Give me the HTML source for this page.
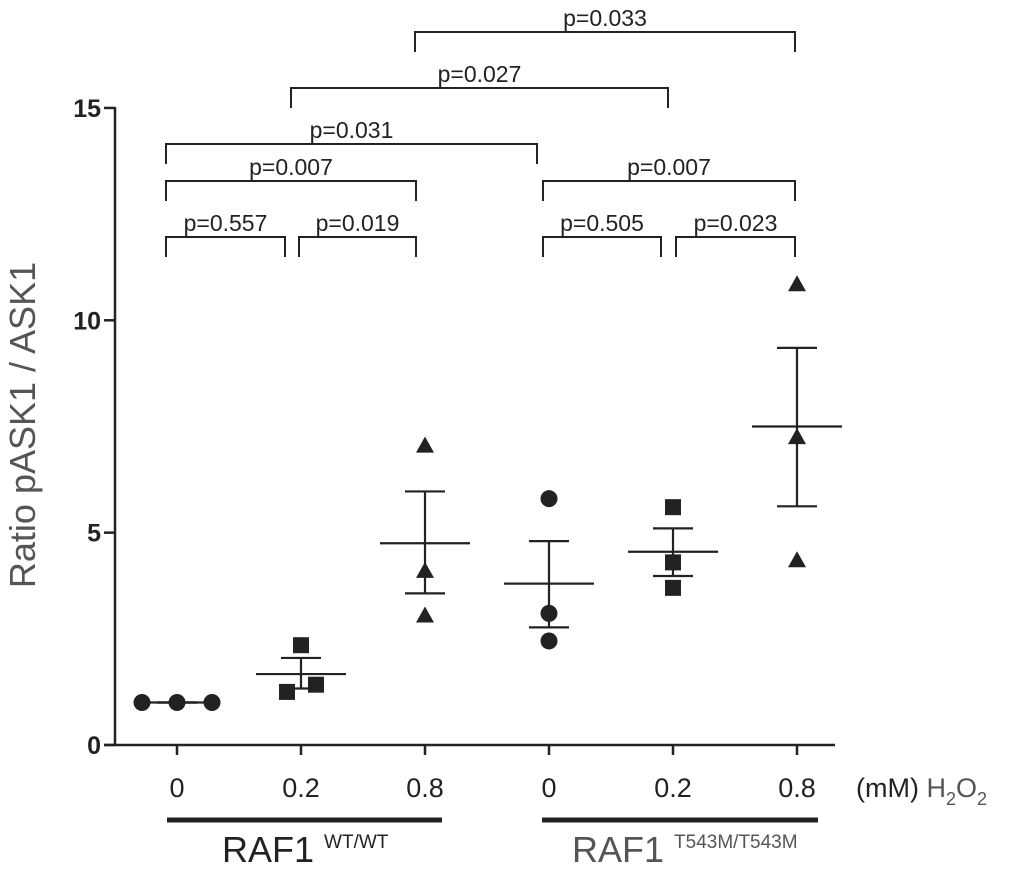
<!DOCTYPE html>
<html><head><meta charset="utf-8"><style>
body{margin:0;background:#fff}
svg{display:block;font-family:"Liberation Sans",Arial,sans-serif}
</style></head><body>
<svg id="chart" width="1017" height="896" viewBox="0 0 1017 896" xmlns="http://www.w3.org/2000/svg"></svg>
<script>
const categories = ["0","0.2","0.8","0","0.2","0.8"];
const shapes = ["circle","square","triangle","circle","square","triangle"];
const values = [[1,1,1],[2.35,1.25,1.42],[7.05,4.1,3.05],[5.8,3.1,2.45],[5.6,4.3,3.7],[10.85,7.25,4.35]];
const means = [1,1.67,4.75,3.8,4.55,7.5];
const semHi = [1,2.05,5.97,4.8,5.1,9.35];
const semLo = [1,1.33,3.57,2.77,3.98,5.62];
const yTicks = [0,5,10,15];
const compA = [0,1,0,0,1,2,3,4,3];
const compB = [1,2,2,3,4,5,4,5,5];
const compLabels = ["p=0.557","p=0.019","p=0.007","p=0.031","p=0.027","p=0.033","p=0.505","p=0.023","p=0.007"];
const compLevel = [0,0,1,2,3,4,0,0,1];

// layout (not data)
const xOffsets = [[-35,0,35],[0,-14,15],[0,0,0],[0,0,0],[0,0,0],[0,0,0]];
const bracketLeftPad = [-11,-2,-11,-11,-10,-10,-6,3,-6];
const bracketRightPad = [-16,-9,-9,-12,-5,-2,-12,-2,-2];
const levelY=[237,181,144,88,32];

const svg=document.getElementById('chart');
const NS="http://www.w3.org/2000/svg";
function el(t,a,p){const e=document.createElementNS(NS,t);for(const k in a)e.setAttribute(k,a[k]);(p||svg).appendChild(e);return e;}
const y=v=>745-v*42.47;
const x=i=>177+i*124;

let e;
e=el('line',{x1:115,y1:107,x2:115,y2:745,stroke:'#222','stroke-width':2.5});


e=el('line',{x1:104,y1:745,x2:835,y2:745,stroke:'#222','stroke-width':2.5});


yTicks.forEach(t=>{
 el('line',{x1:104,y1:y(t),x2:115,y2:y(t),stroke:'#222','stroke-width':2.5});
 e=el('text',{x:101,y:y(t)+9,'text-anchor':'end','font-size':25,'font-weight':'bold',fill:'#222'});
 e.textContent=t;
 
 
});
categories.forEach((c,i)=>{
 el('line',{x1:x(i),y1:745,x2:x(i),y2:755,stroke:'#222','stroke-width':2.5});
 e=el('text',{x:x(i),y:797,'text-anchor':'middle','font-size':27,fill:'#222'});
 e.textContent=c;
 
 
});
e=el('text',{x:856,y:797,'font-size':27,fill:'#222'});
e.innerHTML='(mM) <tspan fill="#555">H<tspan font-size="18" dy="8">2</tspan><tspan dy="-8">O</tspan><tspan font-size="18" dy="8">2</tspan></tspan>';


e=el('text',{x:35,y:425,'text-anchor':'middle','font-size':36,fill:'#555',transform:'rotate(-90 35 425)'});
e.textContent='Ratio pASK1 / ASK1';


[[167,442,'RAF1','WT/WT','#222',222],[542,818,'RAF1','T543M/T543M','#555',572]].forEach(g=>{
 e=el('line',{x1:g[0],y1:820,x2:g[1],y2:820,stroke:'#222','stroke-width':5});
 
 
 e=el('text',{x:g[5],y:862,'font-size':36,fill:g[4]});
 e.innerHTML=g[2]+' <tspan font-size="19" dy="-14">'+g[3]+'</tspan>';
 
 
});
means.forEach((m,i)=>{
 const g=el('g',{stroke:'#222','stroke-width':2.2});
 
 
 const hw = i==0?35:45;
 el('line',{x1:x(i)-hw,y1:y(m),x2:x(i)+hw,y2:y(m)},g);
 el('line',{x1:x(i),y1:y(semHi[i]),x2:x(i),y2:y(semLo[i])},g);
 el('line',{x1:x(i)-20,y1:y(semHi[i]),x2:x(i)+20,y2:y(semHi[i])},g);
 el('line',{x1:x(i)-20,y1:y(semLo[i]),x2:x(i)+20,y2:y(semLo[i])},g);
});
values.forEach((vs,i)=>vs.forEach((v,j)=>{
 const cx=x(i)+xOffsets[i][j], cy=y(v); let p;
 if(shapes[i]=='circle') p=el('circle',{cx,cy,r:8.5,fill:'#222'});
 else if(shapes[i]=='square') p=el('rect',{x:cx-8,y:cy-8,width:16,height:16,fill:'#222'});
 else p=el('polygon',{points:`${cx},${cy-9} ${cx+9},${cy+7} ${cx-9},${cy+7}`,fill:'#222'});
 
 
}));
compLabels.forEach((lab,k)=>{
 const ly=levelY[compLevel[k]];
 const a=x(compA[k])+bracketLeftPad[k], b=x(compB[k])+bracketRightPad[k];
 const g=el('g',{});
 
 
 el('polyline',{points:`${a},${ly+20} ${a},${ly} ${b},${ly} ${b},${ly+20}`,fill:'none',stroke:'#222','stroke-width':2},g);
 const t=el('text',{x:(a+b)/2,y:ly-6,'text-anchor':'middle','font-size':23,fill:'#222'},g);
 t.textContent=lab;
});
</script>
</body></html>
